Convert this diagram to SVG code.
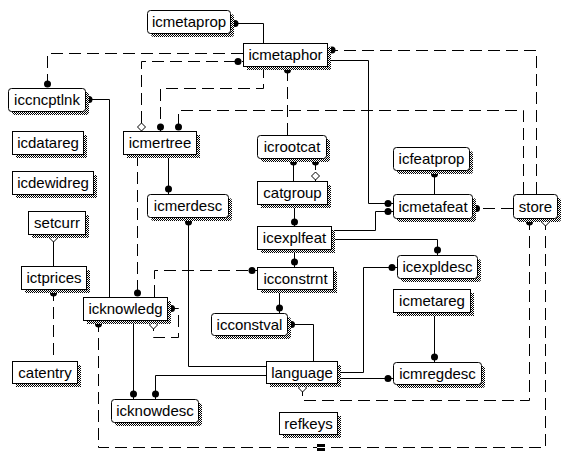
<svg xmlns="http://www.w3.org/2000/svg" xmlns:xlink="http://www.w3.org/1999/xlink" width="569" height="466" viewBox="0 0 569 466">
<style>
.s{fill:none;stroke:#000;stroke-width:1}
.d{fill:none;stroke:#000;stroke-width:1;stroke-dasharray:12 6}
.box{fill:#fff;stroke:#000;stroke-width:1}
.sh{fill:url(#dither);stroke:none}
text{font-family:"Liberation Sans",Arial,sans-serif;font-size:15px;fill:#000;text-anchor:middle}
</style>
<defs>
<pattern id="dither" width="2" height="2" patternUnits="userSpaceOnUse">
<rect width="2" height="2" fill="#fff"/>
<rect width="1" height="1" fill="#000"/>
<rect x="1" y="1" width="1" height="1" fill="#000"/>
</pattern>
<circle id="dot" cx="0" cy="0" r="3.5" fill="#000"/>
<polygon id="dia" points="0,-4 4,0 0,4 -4,0" fill="#fff" stroke="#000" stroke-width="1"/>
</defs>
<rect width="569" height="466" fill="#fff"/>
<g id="connectors">
<path class="s" d="M234,23.5 H263.5 V43"/><use href="#dot" x="235" y="23.5"/>
<path class="d" d="M243,53.5 H47.5 V88"/><use href="#dot" x="47.5" y="84"/>
<path class="d" d="M141.5,123 V61.5 H243"/><use href="#dot" x="238" y="61.5"/><use href="#dia" x="141.5" y="127"/>
<path class="d" d="M263.5,66 V88.5 H160.5 V131"/><use href="#dot" x="160.5" y="127"/>
<path class="d" d="M523.5,194 V110.5 H178.5 V131"/><use href="#dot" x="178.5" y="127"/>
<path class="d" d="M536.5,194 V50.5 H327"/><use href="#dot" x="332" y="50"/>
<path class="d" d="M287.5,135 V66"/><use href="#dot" x="287.5" y="70"/>
<path class="s" d="M327,60.5 H368.5 V203.5 H393"/><use href="#dot" x="388" y="203.5"/>
<path class="s" d="M331,230.5 H375.5 V211.5 H393"/><use href="#dot" x="388" y="211.5"/>
<path class="s" d="M331,239.5 H437.5 V255"/><use href="#dot" x="437.5" y="250"/>
<path class="s" d="M434.5,170 V194"/><use href="#dot" x="434.5" y="174"/>
<path class="d" d="M513,208.5 H472"/><use href="#dot" x="476.5" y="208.5"/>
<path class="d" d="M302.5,384 V400.5 H529.5 V218"/><use href="#dot" x="529.5" y="222"/><use href="#dia" x="302.5" y="388"/>
<path class="d" d="M545.5,218 V447.5 H98.5 V320"/><use href="#dot" x="98.5" y="324"/><use href="#dia" x="545.5" y="222"/>
<rect x="317" y="444" width="8" height="7" fill="#000"/><line x1="317" y1="447.5" x2="325" y2="447.5" stroke="#fff" stroke-width="1"/>
<path class="s" d="M85,99.5 H109.5 V297"/><use href="#dot" x="89" y="99.5"/>
<path class="d" d="M137.5,154 V297"/><use href="#dot" x="137.5" y="293"/>
<path class="s" d="M168.5,154 V194"/><use href="#dot" x="168.5" y="189"/>
<path class="s" d="M53.5,234 V266"/><use href="#dia" x="53.5" y="238"/>
<path class="d" d="M53.5,289 V361"/><use href="#dot" x="53.5" y="293"/>
<path class="s" d="M188.5,217 V366.5 H266"/><use href="#dot" x="188.5" y="222"/>
<path class="s" d="M294.5,249 V267"/><use href="#dot" x="294.5" y="262"/>
<path class="s" d="M294.5,204 V226"/><use href="#dot" x="294.5" y="222"/>
<path class="s" d="M293.5,158 V181"/><use href="#dot" x="293.5" y="162"/>
<path class="d" d="M315.5,158 V181"/><use href="#dot" x="315.5" y="162"/><use href="#dia" x="315.5" y="176"/>
<path class="d" d="M154.5,297 V270.5 H257"/><use href="#dot" x="252" y="270.5"/>
<path class="s" d="M279.5,289 V313"/><use href="#dot" x="279.5" y="308"/>
<path class="s" d="M287,324.5 H313.5 V361"/><use href="#dot" x="291.5" y="324.5"/>
<path class="s" d="M337,372.5 H363.5 V267.5 H397"/><use href="#dot" x="392" y="267.5"/>
<path class="s" d="M337,378.5 H393"/><use href="#dot" x="388" y="378.5"/>
<path class="s" d="M434.5,312 V362"/><use href="#dot" x="434.5" y="357"/>
<path class="s" d="M266,375.5 H155.5 V399"/><use href="#dot" x="155.5" y="394"/>
<path class="s" d="M133.5,320 V399"/><use href="#dot" x="133.5" y="394"/>
<path class="d" d="M167,308.5 H178.5 V337.5 H153.5 V329"/><use href="#dot" x="171.5" y="308.5"/><use href="#dia" x="153.5" y="325"/>
</g>
<g id="icmetaprop"><rect class="sh" x="151" y="14" width="83" height="23" rx="3"/><rect class="box" x="147.5" y="10.5" width="83" height="23" rx="3"/><text x="189" y="27">icmetaprop</text></g>
<g id="icmetaphor"><rect class="sh" x="247" y="47" width="84" height="23"/><rect class="box" x="243.5" y="43.5" width="84" height="23"/><text x="285.5" y="60">icmetaphor</text></g>
<g id="iccncptlnk"><rect class="sh" x="12" y="92" width="77" height="23" rx="3"/><rect class="box" x="8.5" y="88.5" width="77" height="23" rx="3"/><text x="47" y="105">iccncptlnk</text></g>
<g id="icdatareg"><rect class="sh" x="16" y="135" width="71" height="23"/><rect class="box" x="12.5" y="131.5" width="71" height="23"/><text x="48" y="148">icdatareg</text></g>
<g id="icmertree"><rect class="sh" x="127" y="135" width="73" height="23"/><rect class="box" x="123.5" y="131.5" width="73" height="23"/><text x="160" y="148">icmertree</text></g>
<g id="icrootcat"><rect class="sh" x="261" y="139" width="69" height="23" rx="3"/><rect class="box" x="257.5" y="135.5" width="69" height="23" rx="3"/><text x="292" y="152">icrootcat</text></g>
<g id="icfeatprop"><rect class="sh" x="397" y="151" width="76" height="23" rx="3"/><rect class="box" x="393.5" y="147.5" width="76" height="23" rx="3"/><text x="431.5" y="164">icfeatprop</text></g>
<g id="icdewidreg"><rect class="sh" x="16" y="175" width="81" height="23"/><rect class="box" x="12.5" y="171.5" width="81" height="23"/><text x="53" y="188">icdewidreg</text></g>
<g id="catgroup"><rect class="sh" x="261" y="185" width="70" height="23"/><rect class="box" x="257.5" y="181.5" width="70" height="23"/><text x="292.5" y="198">catgroup</text></g>
<g id="icmerdesc"><rect class="sh" x="151" y="198" width="81" height="23" rx="3"/><rect class="box" x="147.5" y="194.5" width="81" height="23" rx="3"/><text x="188" y="211">icmerdesc</text></g>
<g id="icmetafeat"><rect class="sh" x="397" y="198" width="79" height="24" rx="3"/><rect class="box" x="393.5" y="194.5" width="79" height="24" rx="3"/><text x="433" y="212">icmetafeat</text></g>
<g id="store"><rect class="sh" x="517" y="198" width="44" height="24" rx="3"/><rect class="box" x="513.5" y="194.5" width="44" height="24" rx="3"/><text x="535.5" y="212">store</text></g>
<g id="setcurr"><rect class="sh" x="32" y="215" width="57" height="23"/><rect class="box" x="28.5" y="211.5" width="57" height="23"/><text x="57" y="228">setcurr</text></g>
<g id="icexplfeat"><rect class="sh" x="261" y="230" width="74" height="23"/><rect class="box" x="257.5" y="226.5" width="74" height="23"/><text x="294.5" y="243">icexplfeat</text></g>
<g id="icexpldesc"><rect class="sh" x="401" y="259" width="80" height="23" rx="3"/><rect class="box" x="397.5" y="255.5" width="80" height="23" rx="3"/><text x="437.5" y="272">icexpldesc</text></g>
<g id="ictprices"><rect class="sh" x="25" y="270" width="65" height="23"/><rect class="box" x="21.5" y="266.5" width="65" height="23"/><text x="54" y="283">ictprices</text></g>
<g id="icconstrnt"><rect class="sh" x="261" y="271" width="76" height="22"/><rect class="box" x="257.5" y="267.5" width="76" height="22"/><text x="295.5" y="284">icconstrnt</text></g>
<g id="icmetareg"><rect class="sh" x="397" y="293" width="77" height="23"/><rect class="box" x="393.5" y="289.5" width="77" height="23"/><text x="432" y="306">icmetareg</text></g>
<g id="icknowledg"><rect class="sh" x="87" y="301" width="84" height="23"/><rect class="box" x="83.5" y="297.5" width="84" height="23"/><text x="125.5" y="314">icknowledg</text></g>
<g id="icconstval"><rect class="sh" x="215" y="317" width="76" height="22" rx="3"/><rect class="box" x="211.5" y="313.5" width="76" height="22" rx="3"/><text x="249.5" y="330">icconstval</text></g>
<g id="catentry"><rect class="sh" x="16" y="365" width="65" height="22"/><rect class="box" x="12.5" y="361.5" width="65" height="22"/><text x="45" y="378">catentry</text></g>
<g id="language"><rect class="sh" x="270" y="365" width="71" height="22"/><rect class="box" x="266.5" y="361.5" width="71" height="22"/><text x="302" y="378">language</text></g>
<g id="icmregdesc"><rect class="sh" x="397" y="366" width="88" height="22" rx="3"/><rect class="box" x="393.5" y="362.5" width="88" height="22" rx="3"/><text x="437.5" y="379">icmregdesc</text></g>
<g id="icknowdesc"><rect class="sh" x="115" y="403" width="87" height="23" rx="3"/><rect class="box" x="111.5" y="399.5" width="87" height="23" rx="3"/><text x="155" y="416">icknowdesc</text></g>
<g id="refkeys"><rect class="sh" x="283" y="416" width="58" height="22"/><rect class="box" x="279.5" y="412.5" width="58" height="22"/><text x="308.5" y="429">refkeys</text></g>
</svg>
